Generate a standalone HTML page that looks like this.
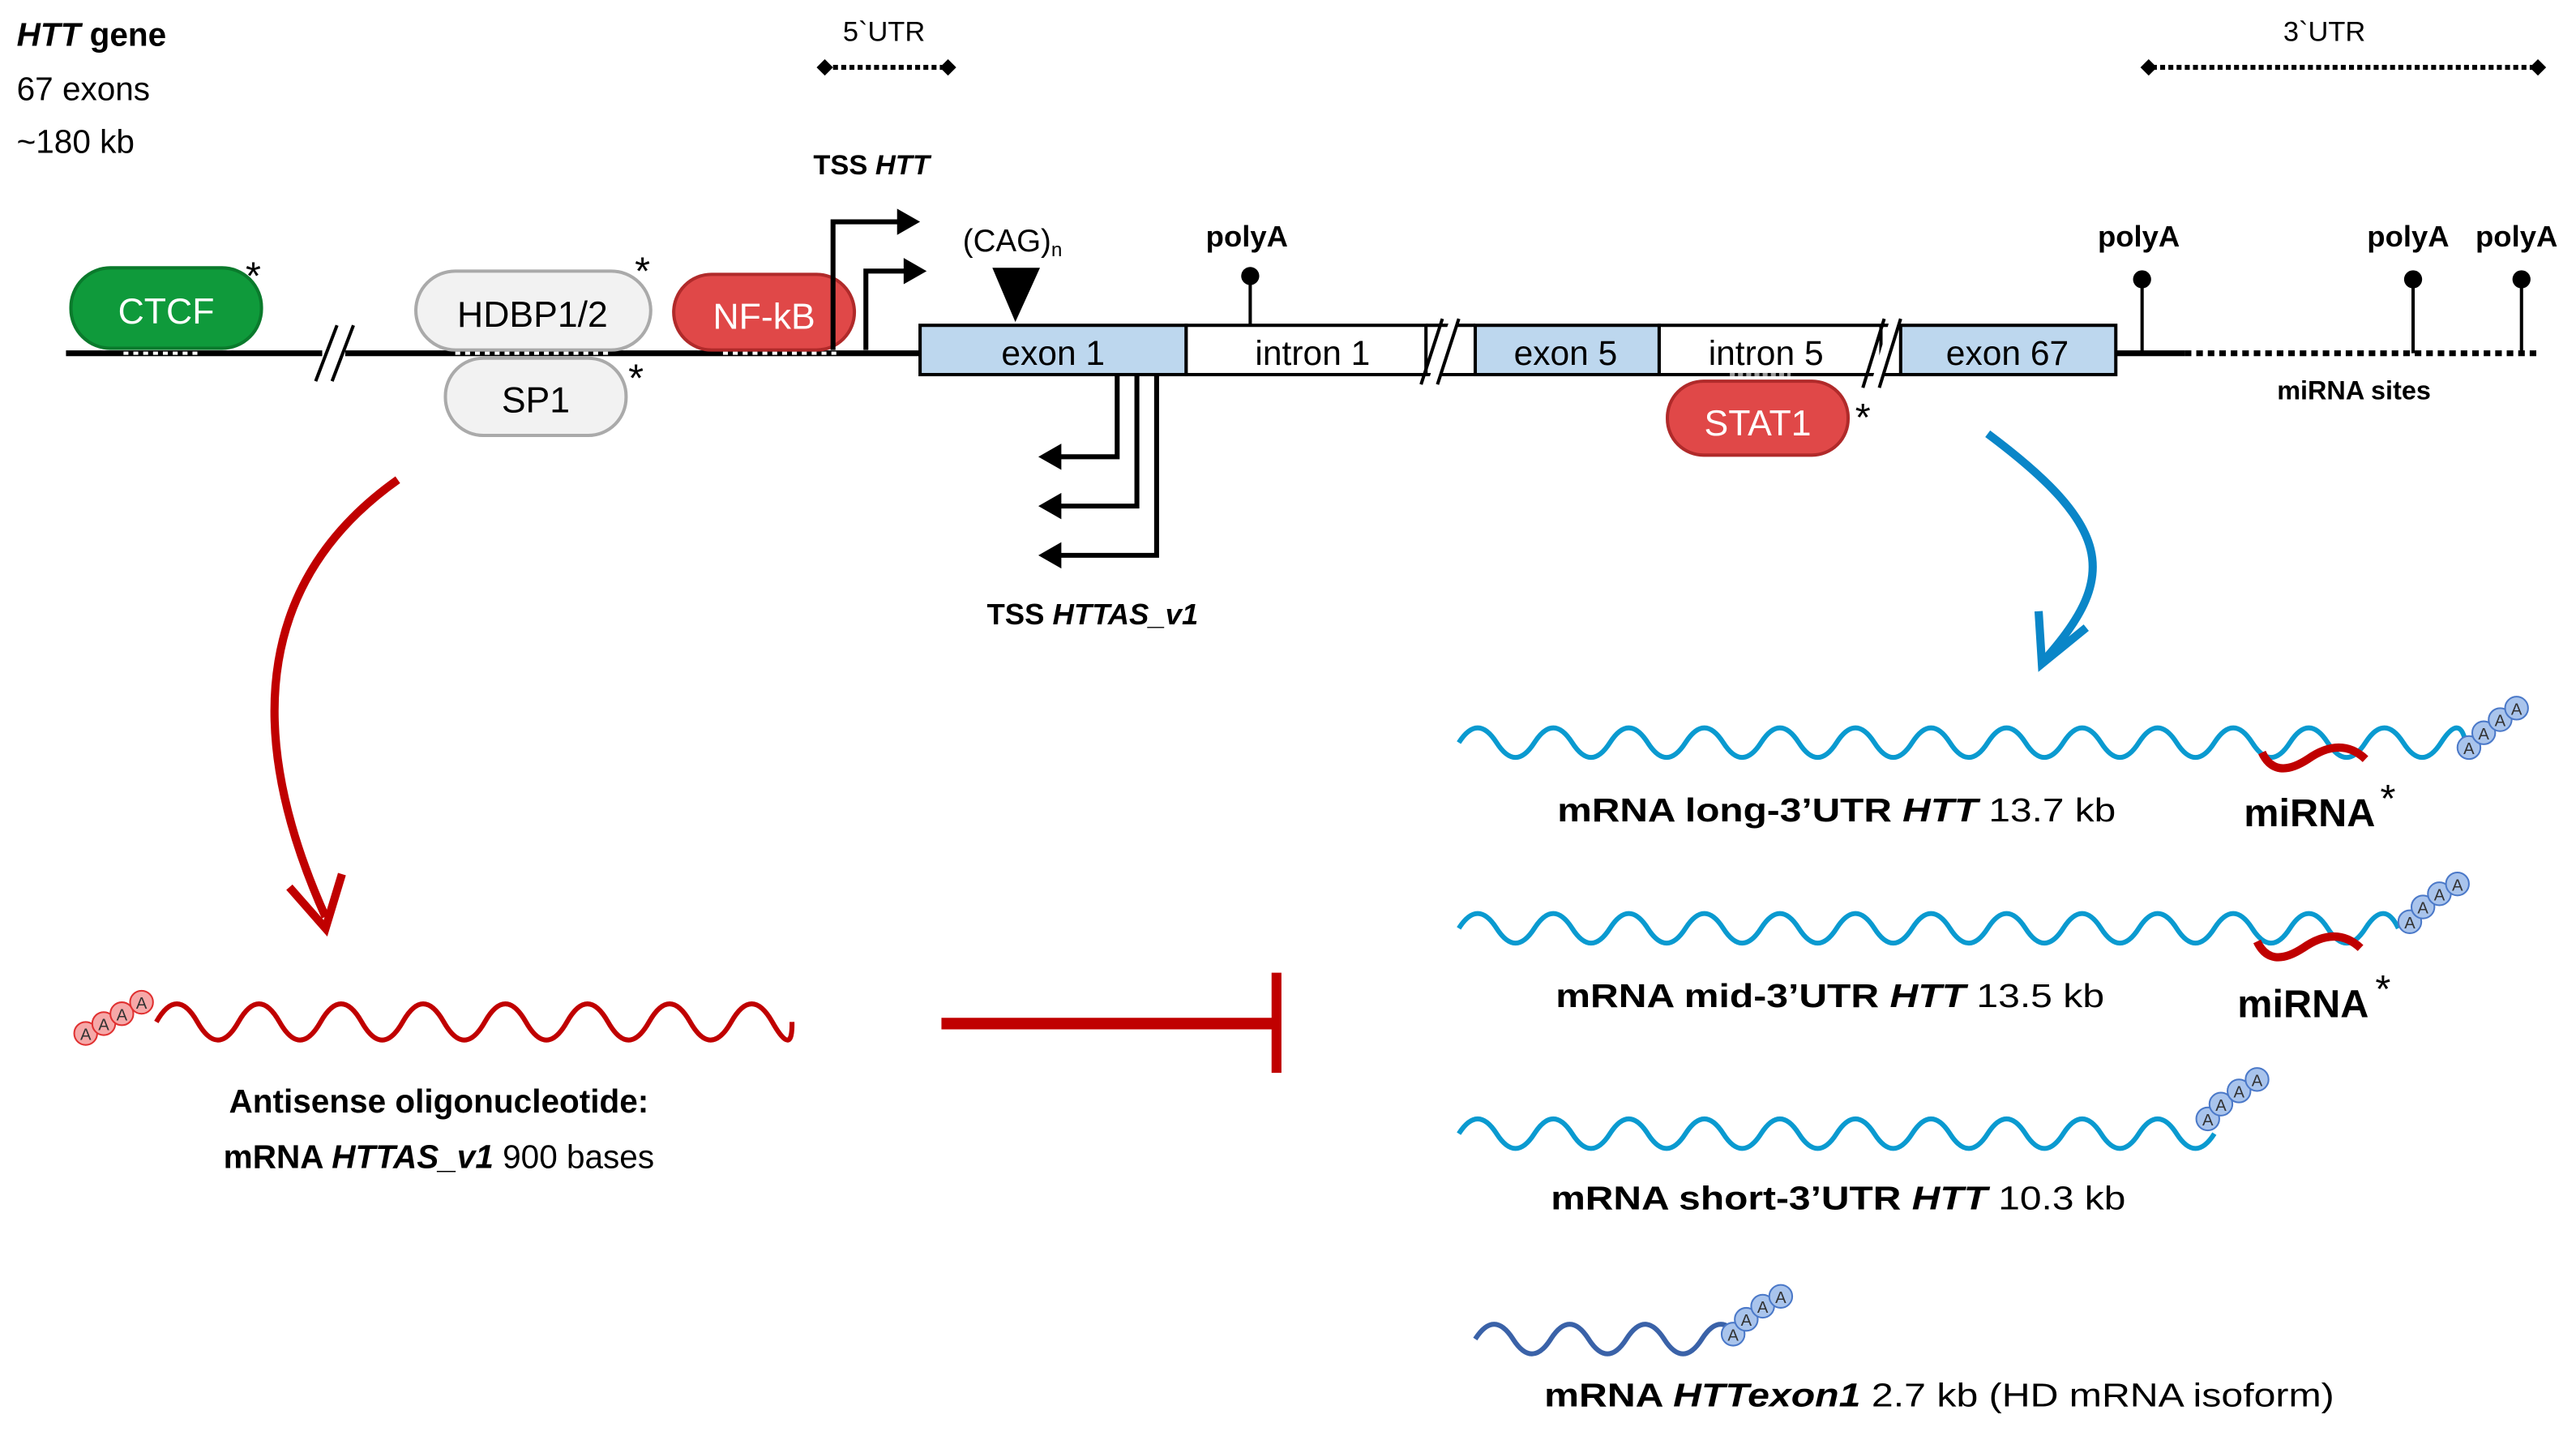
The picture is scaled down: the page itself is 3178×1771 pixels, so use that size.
<!DOCTYPE html>
<html><head><meta charset="utf-8"><style>
html,body{margin:0;padding:0;background:#fff}
svg{display:block}
text{font-family:"Liberation Sans",sans-serif}
</style></head><body>
<svg width="3178" height="1771" viewBox="0 0 1568 874" xmlns="http://www.w3.org/2000/svg">
<defs>
<g id="ab"><circle r="7" fill="#a9c4ec" stroke="#4a78c8" stroke-width="1"/><text y="4" font-size="10" text-anchor="middle" fill="#333">A</text></g>
<g id="ar"><circle r="7" fill="#f6a8a8" stroke="#e03030" stroke-width="1"/><text y="4" font-size="10" text-anchor="middle" fill="#333">A</text></g>
</defs>

<text x="10" y="28" font-size="20" font-weight="bold"><tspan font-style="italic">HTT</tspan> gene</text>
<text x="10" y="61" font-size="20">67 exons</text>
<text x="10" y="93" font-size="20">~180 kb</text>

<text x="538" y="25" font-size="17" text-anchor="middle">5`UTR</text>
<line x1="502" y1="41" x2="576" y2="41" stroke="#000" stroke-width="3" stroke-dasharray="3,2"/>
<path d="M497 41 l5-5 5 5-5 5z M572 41 l5-5 5 5-5 5z"/>
<text x="1415" y="25" font-size="17" text-anchor="middle">3`UTR</text>
<line x1="1310" y1="41" x2="1543" y2="41" stroke="#000" stroke-width="3" stroke-dasharray="3,2"/>
<path d="M1303 41 l5-5 5 5-5 5z M1540 41 l5-5 5 5-5 5z"/>

<line x1="40" y1="215" x2="560" y2="215" stroke="#000" stroke-width="3.5"/>
<g stroke="#fff" stroke-width="2" stroke-dasharray="3,3">
<line x1="75" y1="215" x2="122" y2="215"/><line x1="277" y1="215" x2="370" y2="215"/><line x1="440" y1="215" x2="512" y2="215"/>
</g>
<rect x="196" y="205" width="14" height="22" fill="#fff"/>
<line x1="192" y1="232" x2="205" y2="198" stroke="#000" stroke-width="2"/>
<line x1="202" y1="232" x2="215" y2="198" stroke="#000" stroke-width="2"/>

<rect x="43" y="163" width="116" height="49" rx="24" fill="#0f9a3b" stroke="#0a7a2c" stroke-width="2"/>
<text x="101" y="197" font-size="22" fill="#fff" text-anchor="middle">CTCF</text>
<text x="154" y="176" font-size="24" text-anchor="middle">*</text>
<rect x="253" y="165" width="143" height="48" rx="24" fill="#f2f2f2" stroke="#aaa" stroke-width="2"/>
<text x="324" y="199" font-size="22" text-anchor="middle">HDBP1/2</text>
<text x="391" y="173" font-size="24" text-anchor="middle">*</text>
<rect x="271" y="218" width="110" height="47" rx="23" fill="#f2f2f2" stroke="#aaa" stroke-width="2"/>
<text x="326" y="251" font-size="22" text-anchor="middle">SP1</text>
<text x="387" y="238" font-size="24" text-anchor="middle">*</text>
<rect x="410" y="167" width="110" height="46" rx="23" fill="#e04848" stroke="#b02a2a" stroke-width="2"/>
<text x="465" y="200" font-size="22" fill="#fff" text-anchor="middle">NF-kB</text>

<path d="M507 213 V135 H548 M527 213 V165 H552" fill="none" stroke="#000" stroke-width="3"/>
<path d="M546 127 l14 8 -14 8z M550 157 l14 8 -14 8z"/>
<text x="495" y="106" font-size="17" font-weight="bold">TSS <tspan font-style="italic">HTT</tspan></text>

<text x="586" y="153" font-size="19">(CAG)<tspan font-size="12" dy="3">n</tspan></text>
<path d="M604 163 H633 L618 196z"/>

<rect x="560" y="198" width="162" height="30" fill="#bdd7ee" stroke="#000" stroke-width="2"/>
<text x="641" y="222" font-size="21" text-anchor="middle">exon 1</text>
<rect x="722" y="198" width="146" height="30" fill="#fff" stroke="#000" stroke-width="2"/>
<text x="799" y="222" font-size="21" text-anchor="middle">intron 1</text>
<rect x="898" y="198" width="112" height="30" fill="#bdd7ee" stroke="#000" stroke-width="2"/>
<text x="953" y="222" font-size="21" text-anchor="middle">exon 5</text>
<rect x="1010" y="198" width="135" height="30" fill="#fff" stroke="#000" stroke-width="2"/>
<text x="1075" y="222" font-size="21" text-anchor="middle">intron 5</text>
<rect x="1157" y="198" width="131" height="30" fill="#bdd7ee" stroke="#000" stroke-width="2"/>
<text x="1222" y="222" font-size="21" text-anchor="middle">exon 67</text>
<line x1="868" y1="198" x2="898" y2="198" stroke="#000" stroke-width="2"/>
<line x1="868" y1="228" x2="898" y2="228" stroke="#000" stroke-width="2"/>
<line x1="1145" y1="198" x2="1157" y2="198" stroke="#000" stroke-width="2"/>
<line x1="1145" y1="228" x2="1157" y2="228" stroke="#000" stroke-width="2"/>
<polygon points="870,230 882,196 888,196 876,230" fill="#fff"/>
<line x1="865" y1="234" x2="878" y2="194" stroke="#000" stroke-width="2"/>
<line x1="875" y1="234" x2="888" y2="194" stroke="#000" stroke-width="2"/>
<polygon points="1140,230 1150,196 1156,196 1146,230" fill="#fff"/>
<line x1="1134" y1="236" x2="1147" y2="194" stroke="#000" stroke-width="2"/>
<line x1="1144" y1="236" x2="1157" y2="194" stroke="#000" stroke-width="2"/>
<line x1="1053" y1="228" x2="1090" y2="228" stroke="#999" stroke-width="2" stroke-dasharray="3,2"/>

<line x1="1288" y1="215" x2="1330" y2="215" stroke="#000" stroke-width="3.5"/>
<line x1="1330" y1="215" x2="1545" y2="215" stroke="#000" stroke-width="3.5" stroke-dasharray="4,3"/>
<text x="1433" y="243" font-size="16" font-weight="bold" text-anchor="middle">miRNA sites</text>

<g stroke="#000" stroke-width="2">
<line x1="761" y1="168" x2="761" y2="198"/><line x1="1304" y1="170" x2="1304" y2="215"/>
<line x1="1469" y1="170" x2="1469" y2="215"/><line x1="1535" y1="170" x2="1535" y2="215"/>
</g>
<circle cx="761" cy="168" r="5.5"/><circle cx="1304" cy="170" r="5.5"/><circle cx="1469" cy="170" r="5.5"/><circle cx="1535" cy="170" r="5.5"/>
<g font-size="18" font-weight="bold" text-anchor="middle">
<text x="759" y="150">polyA</text><text x="1302" y="150">polyA</text><text x="1466" y="150">polyA</text><text x="1532" y="150">polyA</text>
</g>

<rect x="1015" y="232" width="110" height="45" rx="22" fill="#e04848" stroke="#b02a2a" stroke-width="2"/>
<text x="1070" y="265" font-size="22" fill="#fff" text-anchor="middle">STAT1</text>
<text x="1134" y="262" font-size="24" text-anchor="middle">*</text>

<path d="M680 228 V278 H645 M692 228 V308 H645 M704 228 V338 H645" fill="none" stroke="#000" stroke-width="3"/>
<path d="M632 278 l14-8 0 16z M632 308 l14-8 0 16z M632 338 l14-8 0 16z"/>
<text x="665" y="380" font-size="18" font-weight="bold" text-anchor="middle">TSS <tspan font-style="italic">HTTAS_v1</tspan></text>

<path d="M242 292 C160 350 145 440 198 558" fill="none" stroke="#c00000" stroke-width="5"/>
<path d="M176 540 L198 565 L208 532" fill="none" stroke="#c00000" stroke-width="5"/>
<path d="M1210 264 C1285 320 1290 350 1246 400" fill="none" stroke="#0a86c8" stroke-width="5"/>
<path d="M1241 372 L1243 404 L1270 382" fill="none" stroke="#0a86c8" stroke-width="5"/>

<path d="M95 622 q12.5 -22 25 0 t25 0 t25 0 t25 0 t25 0 t25 0 t25 0 t25 0 t25 0 t25 0 t25 0 t25 0 t25 0 t25 0 t25 0 t12 0" fill="none" stroke="#c00000" stroke-width="3"/>
<use href="#ar" x="52" y="629"/><use href="#ar" x="63" y="623"/><use href="#ar" x="74" y="617"/><use href="#ar" x="86" y="610"/>
<text x="267" y="677" font-size="20" font-weight="bold" text-anchor="middle">Antisense oligonucleotide:</text>
<text x="267" y="711" font-size="20" text-anchor="middle"><tspan font-weight="bold">mRNA <tspan font-style="italic">HTTAS_v1</tspan></tspan> 900 bases</text>

<line x1="573" y1="623" x2="776" y2="623" stroke="#c00000" stroke-width="7"/>
<line x1="777" y1="592" x2="777" y2="653" stroke="#c00000" stroke-width="6"/>

<g fill="none" stroke="#0a9ad0" stroke-width="3">
<path d="M888 452 q11.5 -18 23 0 t23 0 t23 0 t23 0 t23 0 t23 0 t23 0 t23 0 t23 0 t23 0 t23 0 t23 0 t23 0 t23 0 t23 0 t23 0 t23 0 t23 0 t23 0 t23 0 t23 0 t23 0 t23 0 t23 0 t23 0 t23 0 t15 0"/>
<path d="M888 565 q11.5 -18 23 0 t23 0 t23 0 t23 0 t23 0 t23 0 t23 0 t23 0 t23 0 t23 0 t23 0 t23 0 t23 0 t23 0 t23 0 t23 0 t23 0 t23 0 t23 0 t23 0 t23 0 t23 0 t23 0 t23 0 t20 0"/>
<path d="M888 690 q11.5 -18 23 0 t23 0 t23 0 t23 0 t23 0 t23 0 t23 0 t23 0 t23 0 t23 0 t23 0 t23 0 t23 0 t23 0 t23 0 t23 0 t23 0 t23 0 t23 0 t23 0"/>
</g>
<path d="M898 815 q11.5 -18 23 0 t23 0 t23 0 t23 0 t23 0 t23 0 t23 0" fill="none" stroke="#3a62a8" stroke-width="3"/>

<use href="#ab" x="1503" y="455"/><use href="#ab" x="1512" y="446"/><use href="#ab" x="1522" y="438"/><use href="#ab" x="1532" y="431"/>
<use href="#ab" x="1467" y="561"/><use href="#ab" x="1475" y="552"/><use href="#ab" x="1485" y="544"/><use href="#ab" x="1496" y="538"/>
<use href="#ab" x="1344" y="681"/><use href="#ab" x="1352" y="672"/><use href="#ab" x="1363" y="664"/><use href="#ab" x="1374" y="657"/>
<use href="#ab" x="1055" y="812"/><use href="#ab" x="1063" y="803"/><use href="#ab" x="1073" y="795"/><use href="#ab" x="1084" y="789"/>

<path d="M1377 458 Q1385 475 1405 462 Q1425 448 1440 462" fill="none" stroke="#c00000" stroke-width="5"/>
<path d="M1374 573 Q1382 590 1402 577 Q1422 563 1437 577" fill="none" stroke="#c00000" stroke-width="5"/>
<text x="1406" y="503" font-size="24" font-weight="bold" text-anchor="middle">miRNA</text><text x="1449" y="494" font-size="24">*</text>
<text x="1402" y="619" font-size="24" font-weight="bold" text-anchor="middle">miRNA</text><text x="1446" y="610" font-size="24">*</text>

<g font-size="20">
<text x="948" y="500" textLength="340" lengthAdjust="spacingAndGlyphs"><tspan font-weight="bold">mRNA long-3’UTR  <tspan font-style="italic">HTT</tspan></tspan> 13.7 kb</text>
<text x="947" y="613" textLength="334" lengthAdjust="spacingAndGlyphs"><tspan font-weight="bold">mRNA mid-3’UTR <tspan font-style="italic">HTT</tspan></tspan> 13.5 kb</text>
<text x="944" y="736" textLength="350" lengthAdjust="spacingAndGlyphs"><tspan font-weight="bold">mRNA short-3’UTR  <tspan font-style="italic">HTT</tspan></tspan> 10.3 kb</text>
<text x="940" y="856" textLength="481" lengthAdjust="spacingAndGlyphs"><tspan font-weight="bold">mRNA <tspan font-style="italic">HTTexon1</tspan></tspan>  2.7 kb (HD mRNA isoform)</text>
</g>
</svg>
</body></html>
